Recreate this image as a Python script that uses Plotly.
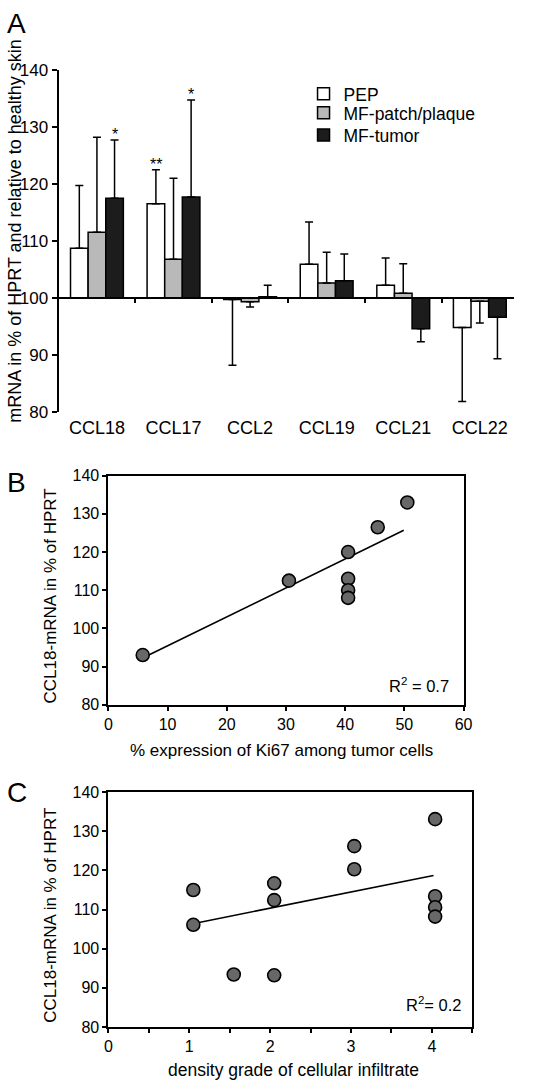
import plotly.graph_objects as go

# ---------------- data ----------------
categories = ["CCL18", "CCL17", "CCL2", "CCL19", "CCL21", "CCL22"]
pep = [108.7, 116.5, 99.7, 105.9, 102.2, 94.8]
pep_err = [11.0, 6.0, 11.5, 7.4, 4.8, 13.0]
mfp = [111.5, 106.8, 99.3, 102.6, 100.8, 99.4]
mfp_err = [16.7, 14.2, 0.9, 5.4, 5.2, 3.8]
mft = [117.5, 117.7, 100.2, 103.0, 94.6, 96.6]
mft_err = [10.2, 17.0, 2.0, 4.7, 2.3, 7.3]
pep_sig = ["", "**", "", "", "", ""]
mfp_sig = ["", "", "", "", "", ""]
mft_sig = ["*", "*", "", "", "", ""]

ki67_x = [5.8, 30.5, 40.5, 40.5, 40.5, 40.5, 45.5, 50.5]
ki67_y = [93.0, 112.5, 120.0, 113.0, 110.0, 108.0, 126.5, 133.0]
ki67_fit_x = [6.3, 49.9]
ki67_fit_y = [92.6, 125.7]

dens_x = [1.05, 1.05, 1.55, 2.05, 2.05, 2.05, 3.04, 3.04, 4.04, 4.04, 4.04, 4.04]
dens_y = [115.0, 106.1, 93.4, 116.7, 112.4, 93.2, 126.2, 120.3, 133.1, 113.4, 110.6, 108.2]
dens_fit_x = [1.12, 4.02]
dens_fit_y = [106.7, 118.7]

W, H = 535, 1091
FONT = "Liberation Sans, Arial, sans-serif"


def fx(px):
    return px / W


def fy(py):
    return 1 - py / H


fig = go.Figure()

# ---------------- panel A ----------------
xpos = list(range(len(categories)))
bargap = 0.31
bar_w = (1 - bargap) / 3
series = [
    ("PEP", pep, pep_err, "#ffffff", pep_sig),
    ("MF-patch/plaque", mfp, mfp_err, "#b9b9b9", mfp_sig),
    ("MF-tumor", mft, mft_err, "#1c1c1c", mft_sig),
]
legend_names = ["legend", "legend2", "legend3"]
annotations = []
for k, (name, vals, errs, col, sig) in enumerate(series):
    up = [e if v >= 100 else 0 for v, e in zip(vals, errs)]
    dn = [0 if v >= 100 else e for v, e in zip(vals, errs)]
    fig.add_trace(go.Bar(
        x=xpos, y=[v - 100 for v in vals], base=100, name=name,
        marker=dict(color=col, line=dict(color="black", width=1.5)),
        error_y=dict(type="data", symmetric=False, array=up, arrayminus=dn,
                     color="black", thickness=1.5, width=4),
        xaxis="x", yaxis="y", legend=legend_names[k],
    ))
    for i, s in enumerate(sig):
        if s:
            annotations.append(dict(
                x=i + (k - 1) * bar_w, y=vals[i] + up[i], xref="x", yref="y",
                text=s, showarrow=False, yanchor="bottom", yshift=-5,
                font=dict(size=16, color="black", family=FONT)))

# dummy trace for the baseline axis
fig.add_trace(go.Scatter(x=[None], y=[None], xaxis="x2", yaxis="y",
                         showlegend=False, hoverinfo="skip"))

# ---------------- panel B ----------------
fig.add_trace(go.Scatter(x=ki67_fit_x, y=ki67_fit_y, mode="lines",
                         line=dict(color="black", width=1.6),
                         xaxis="x3", yaxis="y3", showlegend=False))
fig.add_trace(go.Scatter(x=ki67_x, y=ki67_y, mode="markers",
                         marker=dict(size=13, color="#686868",
                                     line=dict(color="black", width=1.6)),
                         xaxis="x3", yaxis="y3", showlegend=False))

# ---------------- panel C ----------------
fig.add_trace(go.Scatter(x=dens_fit_x, y=dens_fit_y, mode="lines",
                         line=dict(color="black", width=1.6),
                         xaxis="x4", yaxis="y4", showlegend=False))
fig.add_trace(go.Scatter(x=dens_x, y=dens_y, mode="markers",
                         marker=dict(size=13, color="#686868",
                                     line=dict(color="black", width=1.6)),
                         xaxis="x4", yaxis="y4", showlegend=False))

# ---------------- layout ----------------
A_ydom = [fy(410), fy(62)]
p100 = A_ydom[0] + (A_ydom[1] - A_ydom[0]) * (100 - 80) / (140 - 80)
A_xrange = [-0.5, 5.45]

common_ax = dict(showgrid=False, zeroline=False, color="black",
                 tickfont=dict(size=16, family=FONT, color="black"))

layout_axes = dict(
    xaxis=dict(domain=[fx(56), fx(523)], range=A_xrange, anchor="y",
               tickvals=xpos, ticktext=categories, showline=False, ticks="",
               ticklabelstandoff=3, showgrid=False, zeroline=False,
               tickfont=dict(size=18, family=FONT, color="black")),
    xaxis2=dict(overlaying="x", anchor="free", position=p100, range=A_xrange,
                showline=True, linewidth=2, linecolor="black", ticks="outside",
                ticklen=4, tickwidth=1.5, tickcolor="black",
                tickvals=[0.5, 1.5, 2.5, 3.5, 4.5], showticklabels=False,
                showgrid=False, zeroline=False),
    yaxis=dict(domain=A_ydom, range=[80, 140], anchor="x",
               tickvals=[80, 90, 100, 110, 120, 130, 140], ticks="outside",
               ticklen=5, tickwidth=1.5, tickcolor="black",
               showline=True, linewidth=2, linecolor="black",
               showgrid=False, zeroline=False,
               tickfont=dict(size=17, family=FONT, color="black")),
    xaxis3=dict(domain=[fx(107), fx(471)], range=[0, 60], anchor="y3",
                dtick=10, ticks="outside", ticklen=4, tickwidth=1.5,
                tickcolor="black", showline=True, mirror=True, linewidth=2,
                linecolor="black", **common_ax),
    yaxis3=dict(domain=[fy(708), fy(475)], range=[80, 140], anchor="x3",
                dtick=10, ticks="outside", ticklen=4, tickwidth=1.5,
                tickcolor="black", showline=True, mirror=True, linewidth=2,
                linecolor="black", **common_ax),
    xaxis4=dict(domain=[fx(107), fx(480)], range=[0, 4.5], anchor="y4",
                dtick=1, ticks="outside", ticklen=4, tickwidth=1.5,
                tickcolor="black", showline=True, mirror=True, linewidth=2,
                linecolor="black",
                minor=dict(dtick=0.5, ticks="outside", ticklen=4,
                           tickwidth=1.5, tickcolor="black"),
                **common_ax),
    yaxis4=dict(domain=[fy(1036), fy(797)], range=[80, 140], anchor="x4",
                dtick=10, ticks="outside", ticklen=4, tickwidth=1.5,
                tickcolor="black", showline=True, mirror=True, linewidth=2,
                linecolor="black", **common_ax),
)

annotations += [
    dict(text="A", x=fx(1), y=fy(15), xref="paper", yref="paper",
         xanchor="left", yanchor="middle", showarrow=False,
         font=dict(size=28, family=FONT, color="black")),
    dict(text="B", x=fx(1), y=fy(482), xref="paper", yref="paper",
         xanchor="left", yanchor="middle", showarrow=False,
         font=dict(size=28, family=FONT, color="black")),
    dict(text="C", x=fx(1), y=fy(797), xref="paper", yref="paper",
         xanchor="left", yanchor="middle", showarrow=False,
         font=dict(size=28, family=FONT, color="black")),
    dict(text="mRNA in % of HPRT and relative to healthy skin",
         x=fx(11), y=fy(226), xref="paper", yref="paper", textangle=-90,
         xanchor="center", yanchor="middle", showarrow=False,
         font=dict(size=18, family=FONT, color="black")),
    dict(text="CCL18-mRNA in % of HPRT", x=fx(48), y=fy(597),
         xref="paper", yref="paper", textangle=-90, showarrow=False,
         xanchor="center", yanchor="middle",
         font=dict(size=17, family=FONT, color="black")),
    dict(text="% expression of Ki67 among tumor cells", x=fx(284), y=fy(755),
         xref="paper", yref="paper", showarrow=False,
         xanchor="center", yanchor="middle",
         font=dict(size=17, family=FONT, color="black")),
    dict(text="CCL18-mRNA in % of HPRT", x=fx(48), y=fy(922),
         xref="paper", yref="paper", textangle=-90, showarrow=False,
         xanchor="center", yanchor="middle",
         font=dict(size=17, family=FONT, color="black")),
    dict(text="density grade of cellular infiltrate", x=fx(297), y=fy(1080),
         xref="paper", yref="paper", showarrow=False,
         xanchor="center", yanchor="middle",
         font=dict(size=17.5, family=FONT, color="black")),
    dict(text="R<sup>2</sup> = 0.7", x=fx(458), y=fy(688),
         xref="paper", yref="paper", showarrow=False,
         xanchor="right", yanchor="middle",
         font=dict(size=16.5, family=FONT, color="black")),
    dict(text="R<sup>2</sup>= 0.2", x=fx(471), y=fy(1013),
         xref="paper", yref="paper", showarrow=False,
         xanchor="right", yanchor="middle",
         font=dict(size=16.5, family=FONT, color="black")),
]

leg_common = dict(xanchor="left", yanchor="top", bgcolor="rgba(0,0,0,0)",
                  borderwidth=0, font=dict(size=17.5, family=FONT, color="black"))
leg_x = fx(307)

fig.update_layout(
    width=W, height=H, autosize=False,
    margin=dict(l=0, r=0, t=0, b=0, pad=0),
    paper_bgcolor="white", plot_bgcolor="white",
    barmode="group", bargap=bargap, bargroupgap=0,
    font=dict(family=FONT, color="black"),
    showlegend=True,
    legend=dict(x=leg_x, y=fy(68), **leg_common),
    legend2=dict(x=leg_x, y=fy(87.5), **leg_common),
    legend3=dict(x=leg_x, y=fy(110), **leg_common),
    annotations=annotations,
    **layout_axes,
)

fig.write_html("out.html", config={"displayModeBar": False},
               post_script="document.body.style.margin='0';document.body.style.overflow='hidden';")
